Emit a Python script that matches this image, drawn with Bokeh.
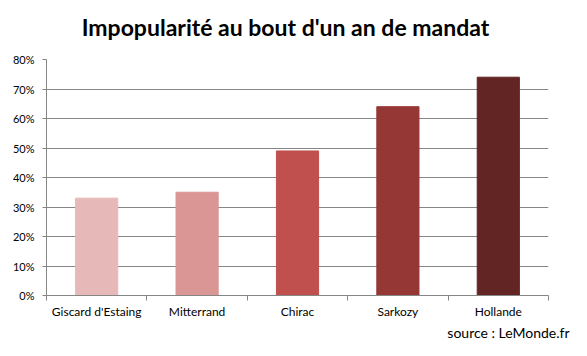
from bokeh.plotting import figure
from bokeh.models import (ColumnDataSource, Range1d, LinearAxis, FixedTicker,
                          NumeralTickFormatter, Title, Div)
from bokeh.layouts import column
from bokeh.embed import file_html
from bokeh.resources import INLINE

presidents = ["Giscard d'Estaing", "Mitterrand", "Chirac", "Sarkozy", "Hollande"]
impopularite = [0.33, 0.35, 0.49, 0.64, 0.74]
colors = ["#E6B9B8", "#DA9694", "#C0504D", "#953735", "#632523"]
y_ticks = [0.0, 0.1, 0.2, 0.3, 0.4, 0.5, 0.6, 0.7, 0.8]
title_text = "Impopularité au bout d'un an de mandat"
source_text = "source : LeMonde.fr"

FONT = "Lato"
GRAY = "#868686"
TITLE_H = 46
W = 571

n = len(presidents)
centers = [i + 0.5 for i in range(n)]
boundaries = list(range(n + 1))
src = ColumnDataSource(dict(x=centers, top=impopularite, color=colors, name=presidents))

title_div = Div(
    text=('<div style="width:%dpx;padding-top:13px;line-height:28px;text-align:center;'
          'font-family:Lato;font-size:23px;font-weight:bold;color:black;'
          'white-space:nowrap;">' % W) + title_text + '</div>',
    width=W, height=TITLE_H, margin=(0, 0, 0, 0),
    styles={"width": "%dpx" % W, "text-align": "center"})

p = figure(width=W, height=340 - TITLE_H, output_backend="svg", toolbar_location=None,
           x_range=Range1d(0, n), y_range=Range1d(0, 0.8),
           min_border_left=46, min_border_right=23, min_border_bottom=0,
           min_border_top=59 - TITLE_H, x_axis_type=None, margin=(0, 0, 0, 0))
p.outline_line_color = None
p.background_fill_color = "white"
p.border_fill_color = "white"

p.vbar(x="x", top="top", width=0.42, bottom=0, color="color", source=src)

# y axis
p.yaxis.ticker = FixedTicker(ticks=y_ticks)
p.yaxis.formatter = NumeralTickFormatter(format="0%")
p.yaxis.axis_line_color = GRAY
p.yaxis.major_tick_line_color = GRAY
p.yaxis.major_tick_out = 4
p.yaxis.major_tick_in = 0
p.yaxis.minor_tick_line_color = None
p.yaxis.major_label_text_font = FONT
p.yaxis.major_label_text_font_size = "11px"
p.yaxis.major_label_text_color = "black"
p.yaxis.major_label_standoff = 8

p.ygrid.grid_line_color = GRAY
p.ygrid.grid_line_width = 1
p.xgrid.grid_line_color = None

# x axis: labels at category centers, tick marks (minor) at boundaries
xa = LinearAxis(ticker=FixedTicker(ticks=centers, minor_ticks=boundaries),
                major_label_overrides={c: name for c, name in zip(centers, presidents)},
                axis_line_color=GRAY,
                major_tick_line_color=None, major_tick_out=0, major_tick_in=0,
                minor_tick_line_color=GRAY, minor_tick_out=5, minor_tick_in=0,
                major_label_text_font=FONT, major_label_text_font_size="12px",
                major_label_text_color="black", major_label_standoff=3)
p.add_layout(xa, "below")

src_title = Title(text=source_text, align="right", offset=-21, standoff=0,
                  text_font=FONT, text_font_size="14px", text_font_style="normal",
                  text_color="black")
p.add_layout(src_title, "below")

layout = column(title_div, p, spacing=0)
open("out.html", "w").write(file_html(layout, INLINE))
